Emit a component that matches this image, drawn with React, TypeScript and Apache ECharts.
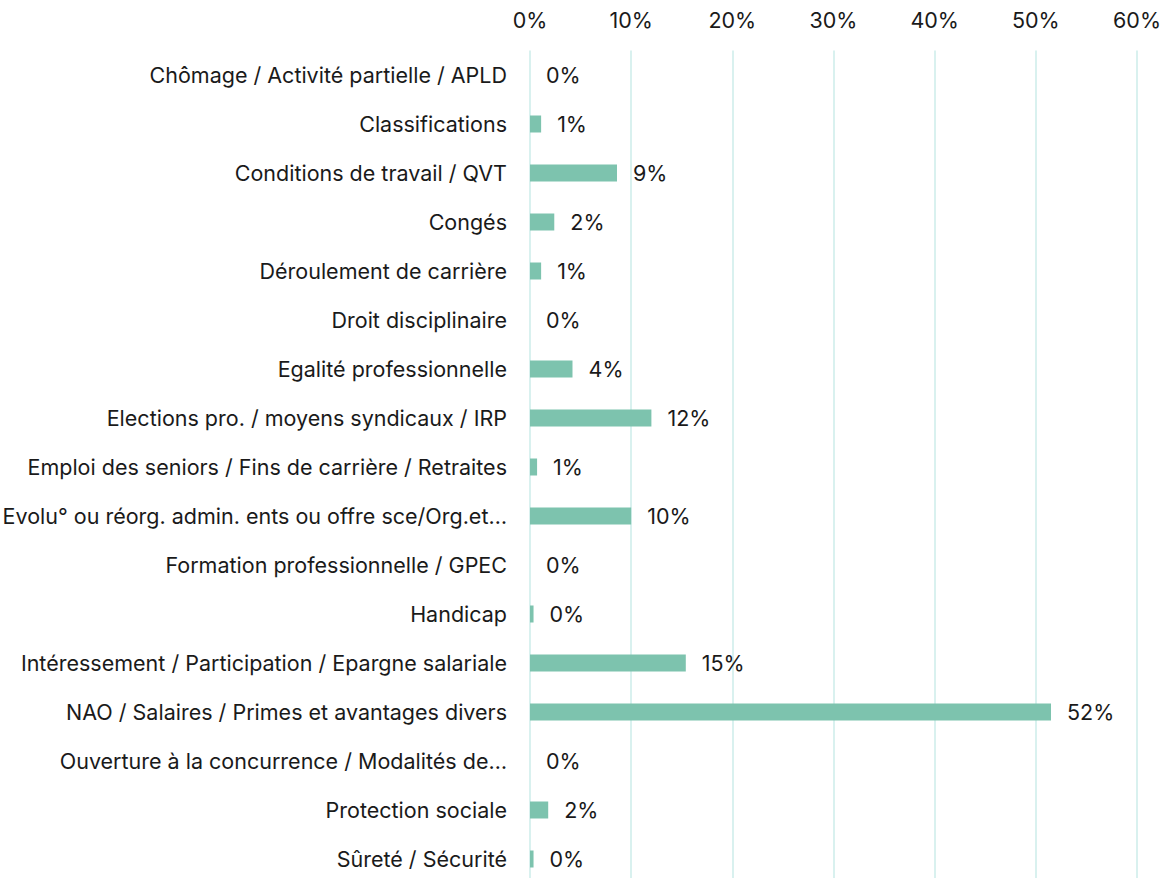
import React, { useEffect, useRef } from "react";
import * as echarts from "echarts";

const categories = [
  "Chômage / Activité partielle / APLD",
  "Classifications",
  "Conditions de travail / QVT",
  "Congés",
  "Déroulement de carrière",
  "Droit disciplinaire",
  "Egalité professionnelle",
  "Elections pro. / moyens syndicaux / IRP",
  "Emploi des seniors / Fins de carrière / Retraites",
  "Evolu° ou réorg. admin. ents ou offre sce/Org.et…",
  "Formation professionnelle / GPEC",
  "Handicap",
  "Intéressement / Participation / Epargne salariale",
  "NAO / Salaires / Primes et avantages divers",
  "Ouverture à la concurrence / Modalités de…",
  "Protection sociale",
  "Sûreté / Sécurité",
];

const values = [0, 1.1, 8.6, 2.4, 1.1, 0, 4.2, 12.0, 0.7, 10.0, 0, 0.35, 15.4, 51.5, 0, 1.8, 0.35];

const xTicks = [0, 10, 20, 30, 40, 50, 60];

const FONT = "Inter";
const FS = 21.5;

export default function App() {
  const ref = useRef<HTMLDivElement>(null);
  useEffect(() => {
    if (!ref.current) return;
    const chart = echarts.init(ref.current, undefined, { renderer: "svg" });
    chart.setOption({
      animation: false,
      grid: { left: 530, top: 50.5, width: 607, height: 833, containLabel: false, outerBoundsMode: "none" },
      xAxis: {
        type: "value",
        position: "top",
        min: xTicks[0],
        max: xTicks[xTicks.length - 1],
        interval: 10,
        axisLine: { show: false },
        axisTick: { show: false },
        axisLabel: {
          formatter: (v: number) => v + "%",
          color: "#1a1a1a",
          fontSize: FS,
          fontFamily: FONT,
          margin: 20,
        },
        splitLine: { show: true, lineStyle: { color: "#CDEDEA", width: 1.5 } },
      },
      yAxis: {
        type: "category",
        data: categories,
        inverse: true,
        axisLine: { show: false },
        axisTick: { show: false },
        axisLabel: {
          color: "#1a1a1a",
          fontSize: FS,
          fontFamily: FONT,
          margin: 23,
        },
      },
      series: [
        {
          type: "bar",
          data: values,
          barWidth: 17,
          itemStyle: { color: "#7DC3AE" },
          label: {
            show: true,
            position: "right",
            distance: 16,
            formatter: (p: any) => Math.round(p.value) + "%",
            color: "#1a1a1a",
            fontSize: FS,
            fontFamily: FONT,
          },
        },
      ],
    });
    return () => chart.dispose();
  }, []);
  return (
    <div
      ref={ref}
      style={{ position: "absolute", left: 0, top: 0, width: 1164, height: 878, background: "#fff" }}
    />
  );
}
